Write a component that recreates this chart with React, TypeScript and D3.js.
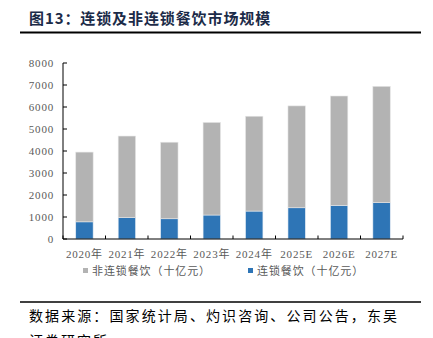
import React from "react";
import * as d3 from "d3";

const categories = ["2020年", "2021年", "2022年", "2023年", "2024年", "2025E", "2026E", "2027E"];
const chainValues = [780, 970, 920, 1090, 1270, 1420, 1530, 1650];
const nonChainValues = [3170, 3710, 3480, 4210, 4310, 4630, 4970, 5290];
const yTicks = [0, 1000, 2000, 3000, 4000, 5000, 6000, 7000, 8000];
const seriesNames = ["非连锁餐饮（十亿元）", "连锁餐饮（十亿元）"];

const W = 433;
const H = 338;
const serif = "'Liberation Serif', 'Noto Sans CJK SC', serif";
const cjk = "'Noto Sans CJK SC', sans-serif";

export default function App() {
  const x = d3.scaleBand<string>().domain(categories).range([63, 403]).paddingInner(0.59).paddingOuter(0.3);
  const y = d3.scaleLinear().domain([0, 8000]).range([239, 63]);
  const boundaries = d3.range(categories.length + 1).map((i) => 63 + (i * (403 - 63)) / categories.length);
  const stacked = categories.map((c, i) => ({
    c,
    chain: chainValues[i],
    non: nonChainValues[i],
  }));
  const bw = x.bandwidth();
  return (
    <svg width={W} height={H} style={{ position: "absolute", left: 0, top: 0, background: "#fff" }}>
      <text x={29} y={24} fontFamily={cjk} fontWeight="bold" fontSize={15} fill="#1c2b48" letterSpacing={0.9}>
        图13：连锁及非连锁餐饮市场规模
      </text>
      <line x1={20} x2={421} y1={32.5} y2={32.5} stroke="#000" strokeWidth={2} />

      {stacked.map((d) => {
        const x0 = x(d.c)!;
        return (
          <g key={d.c}>
            <rect x={x0} y={y(d.chain)} width={bw} height={y(0) - y(d.chain)} fill="#2e75b6" stroke="#e8eef5" strokeWidth={0.6} />
            <rect x={x0} y={y(d.chain + d.non)} width={bw} height={y(d.chain) - y(d.chain + d.non)} fill="#b3b3b3" stroke="#e6e6e6" strokeWidth={0.6} />
          </g>
        );
      })}

      <line x1={63} x2={63} y1={63} y2={239} stroke="#000" strokeWidth={1} />
      {yTicks.map((t) => (
        <g key={t}>
          <line x1={63} x2={67} y1={y(t)} y2={y(t)} stroke="#000" strokeWidth={1} />
          <text x={54} y={y(t) + 4} textAnchor="end" fontFamily={serif} fontSize={11} fill="#595959" letterSpacing={0.8}>
            {t}
          </text>
        </g>
      ))}
      <line x1={63} x2={403} y1={239} y2={239} stroke="#000" strokeWidth={1} />
      {boundaries.map((b, i) => (
        <line key={i} x1={b} x2={b} y1={235.5} y2={239} stroke="#000" strokeWidth={1} />
      ))}
      {categories.map((c) => (
        <text key={c} x={x(c)! + bw / 2} y={258} textAnchor="middle" fontFamily={serif} fontSize={11} fill="#595959" letterSpacing={0.8}>
          {c}
        </text>
      ))}

      <rect x={83} y={268} width={5} height={5} fill="#b3b3b3" />
      <text x={92} y={275} fontFamily={cjk} fontSize={11} fill="#595959" letterSpacing={0.9}>
        {seriesNames[0]}
      </text>
      <rect x={248} y={268} width={5} height={5} fill="#2e75b6" />
      <text x={257} y={275} fontFamily={cjk} fontSize={11} fill="#595959" letterSpacing={0.9}>
        {seriesNames[1]}
      </text>

      <line x1={20} x2={421} y1={302} y2={302} stroke="#000" strokeWidth={1.3} />
      <text x={29} y={321} fontFamily={cjk} fontSize={14} fill="#000" textLength={368} lengthAdjust="spacing">
        数据来源：国家统计局、灼识咨询、公司公告，东吴
      </text>
      <text x={29} y={346} fontFamily={cjk} fontSize={14} fill="#000" letterSpacing={2}>
        证券研究所
      </text>
    </svg>
  );
}
